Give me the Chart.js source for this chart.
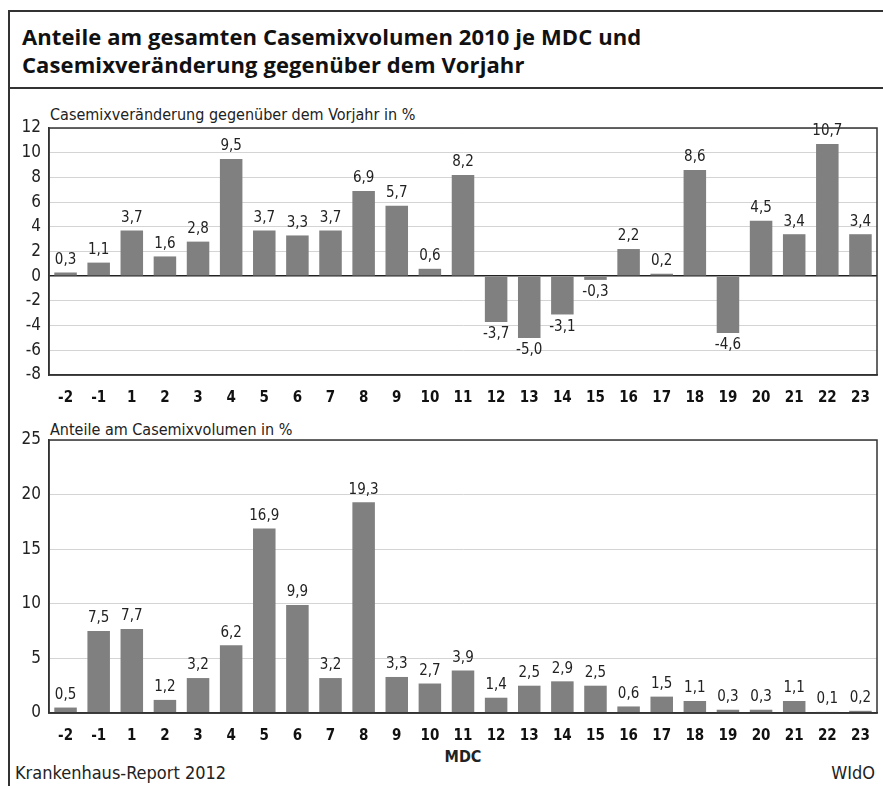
<!DOCTYPE html>
<html>
<head>
<meta charset="utf-8">
<script src="https://cdn.jsdelivr.net/npm/chart.js@4.4.1/dist/chart.umd.min.js"></script>
<style>
  body { margin: 0; background: #fff; width: 883px; height: 786px; position: relative; overflow: hidden; }
  .frame-top { position: absolute; left: 8px; top: 10px; width: 875px; height: 2px; background: #333; }
  .frame-sep { position: absolute; left: 8px; top: 87px; width: 875px; height: 2px; background: #333; }
  .frame-left { position: absolute; left: 8px; top: 10px; width: 2px; height: 776px; background: #333; }
  .title { position: absolute; left: 22px; top: 22px; font: bold 22px "Open Sans", sans-serif; line-height: 28px; color: #111; letter-spacing: 0.1px; }
  .label { position: absolute; font: 16px "DejaVu Sans Condensed", "Roboto", sans-serif; color: #222; white-space: nowrap; }
  canvas { position: absolute; }
</style>
</head>
<body>
<div class="frame-top"></div>
<div class="frame-sep"></div>
<div class="frame-left"></div>
<div class="title">Anteile am gesamten Casemixvolumen 2010 je MDC und<br>Casemixveränderung gegenüber dem Vorjahr</div>
<div class="label" style="left:50px; top:105px;">Casemixveränderung gegenüber dem Vorjahr in %</div>
<div class="label" style="left:50px; top:420px;">Anteile am Casemixvolumen in %</div>
<div class="label" style="left:0; width:926px; text-align:center; top:747px; font-weight:bold;">MDC</div>
<div class="label" style="left:15px; top:762px; font-size:18px;">Krankenhaus-Report 2012</div>
<div class="label" style="right:8px; top:762px; font-size:18px;">WIdO</div>

<canvas id="change" style="left:8px; top:100px; width:875px; height:305px;" width="875" height="305"></canvas>
<canvas id="share" style="left:8px; top:420px; width:875px; height:323px;" width="875" height="323"></canvas>

<script>
const mdc = ["-2", "-1", "1", "2", "3", "4", "5", "6", "7", "8", "9", "10", "11", "12", "13", "14", "15", "16", "17", "18", "19", "20", "21", "22", "23"];
const changeValues = [0.3, 1.1, 3.7, 1.6, 2.8, 9.5, 3.7, 3.3, 3.7, 6.9, 5.7, 0.6, 8.2, -3.7, -5.0, -3.1, -0.3, 2.2, 0.2, 8.6, -4.6, 4.5, 3.4, 10.7, 3.4];
const shareValues = [0.5, 7.5, 7.7, 1.2, 3.2, 6.2, 16.9, 9.9, 3.2, 19.3, 3.3, 2.7, 3.9, 1.4, 2.5, 2.9, 2.5, 0.6, 1.5, 1.1, 0.3, 0.3, 1.1, 0.1, 0.2];
const changeTicks = [-8, -6, -4, -2, 0, 2, 4, 6, 8, 10, 12];
const shareTicks = [0, 5, 10, 15, 20, 25];

const narrow = '"DejaVu Sans Condensed", "Roboto", sans-serif';

// values over / under the bars, plus the box round the plot
const barLabels = {
  id: "barLabels",
  afterDatasetsDraw(chart) {
    const ctx = chart.ctx;
    const meta = chart.getDatasetMeta(0);
    const data = chart.data.datasets[0].data;
    ctx.save();
    ctx.font = "15px " + narrow;
    ctx.fillStyle = "#222";
    ctx.textAlign = "center";
    meta.data.forEach((bar, i) => {
      const v = data[i];
      const txt = v.toFixed(1).replace(".", ",");
      if (v >= 0) {
        ctx.textBaseline = "bottom";
        ctx.fillText(txt, bar.x, bar.y - 5);
      } else {
        ctx.textBaseline = "top";
        ctx.fillText(txt, bar.x, bar.y + 5);
      }
    });
    const a = chart.chartArea;
    ctx.strokeStyle = "#333";
    ctx.lineWidth = 1.5;
    ctx.strokeRect(a.left, a.top, a.right - a.left, a.bottom - a.top);
    ctx.restore();
  }
};

function makeChart(id, values, ticks, padTop) {
  const min = ticks[0];
  const max = ticks[ticks.length - 1];
  return new Chart(document.getElementById(id).getContext("2d"), {
    type: "bar",
    data: {
      labels: mdc,
      datasets: [{
        data: values,
        backgroundColor: "#808080",
        barPercentage: 0.68,
        categoryPercentage: 1,
      }],
    },
    options: {
      responsive: false,
      animation: false,
      layout: { padding: { top: padTop, right: 6, left: 0, bottom: 0 } },
      plugins: { legend: { display: false }, tooltip: { enabled: false } },
      scales: {
        x: {
          grid: { display: false },
          border: { color: "#333", width: 1.5 },
          ticks: { color: "#111", font: { family: narrow, size: 15, weight: "bold" }, padding: 6 },
          afterFit: (axis) => { axis.height = 30; },
        },
        y: {
          min: min,
          max: max,
          afterBuildTicks: (axis) => { axis.ticks = ticks.map((v) => ({ value: v })); },
          grid: {
            color: (c) => (c.tick && c.tick.value === 0 ? "#222" : "#d4d4d4"),
            lineWidth: (c) => (c.tick && c.tick.value === 0 ? 1.5 : 1),
            drawTicks: false,
          },
          border: { color: "#333", width: 1.5 },
          ticks: { color: "#222", font: { family: narrow, size: 17 }, padding: 8 },
          afterFit: (axis) => { axis.width = 41; },
        },
      },
    },
    plugins: [barLabels],
  });
}

makeChart("change", changeValues, changeTicks, 28);
makeChart("share", shareValues, shareTicks, 20);
</script>
</body>
</html>
